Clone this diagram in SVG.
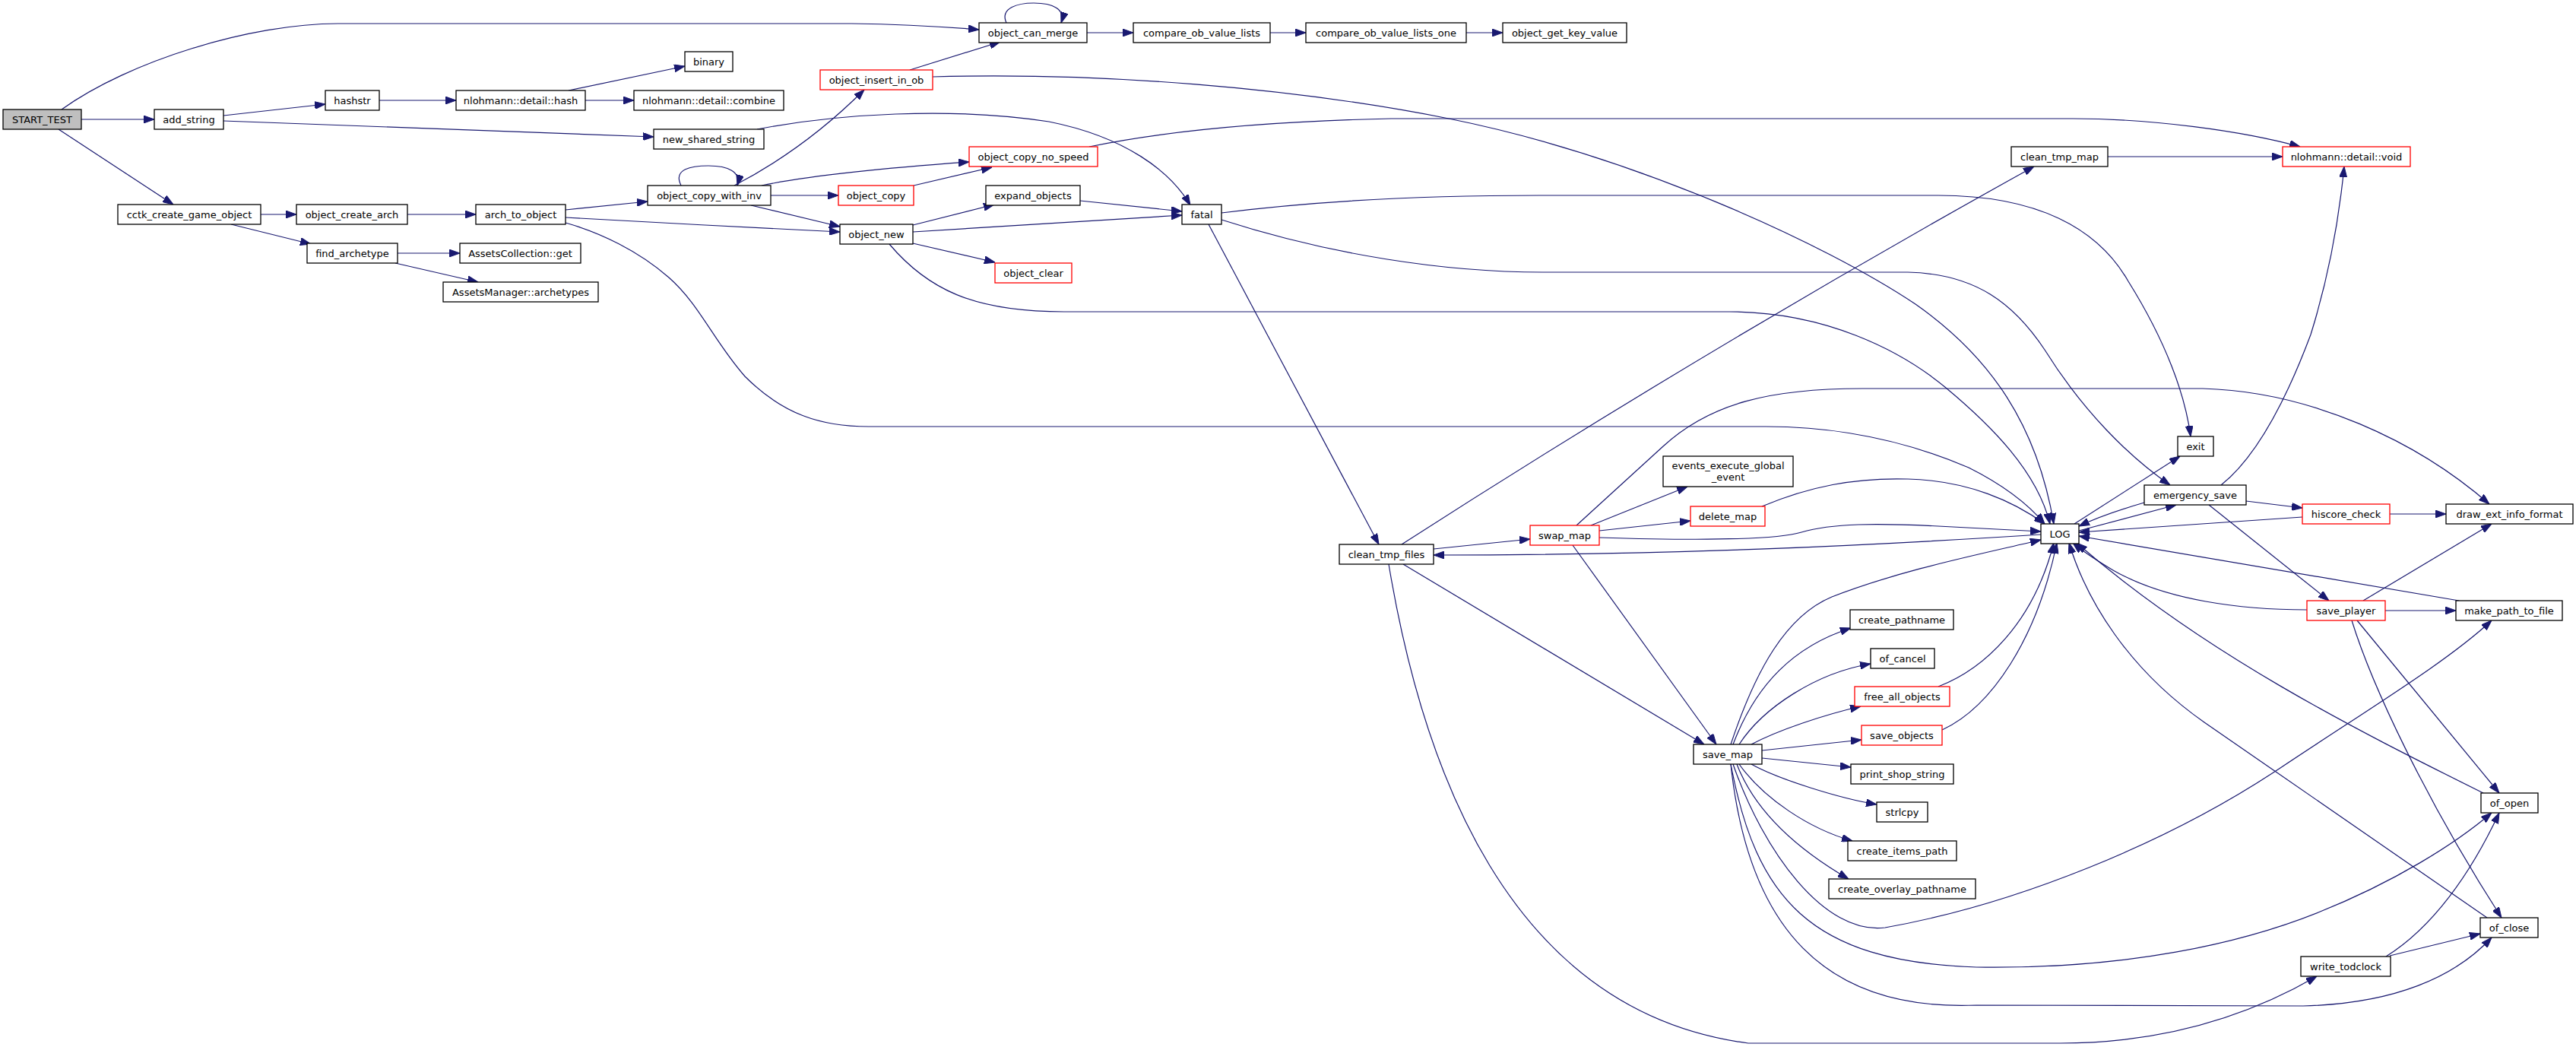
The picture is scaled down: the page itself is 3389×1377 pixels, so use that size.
<svg xmlns="http://www.w3.org/2000/svg" width="3389" height="1377" viewBox="0 0 3389 1377">
<style>
.e path{fill:none;stroke:#191970;stroke-width:1.2;marker-end:url(#a)}
.n rect{fill:#fff;stroke:#000;stroke-width:1.3}
.n.r rect{stroke:#ff0000}
.n.s rect{fill:#bfbfbf}
text{font-family:"DejaVu Sans","Liberation Sans",sans-serif;font-size:13px;text-anchor:middle;fill:#000}
</style>
<defs>
<marker id="a" markerWidth="14" markerHeight="10" refX="14" refY="5" orient="auto" markerUnits="userSpaceOnUse"><path d="M0,0 L14,5 L0,10 z" fill="#191970" stroke="#191970" stroke-width="1"/></marker>
</defs>
<rect width="3389" height="1377" fill="#fff"/>
<g id="edges" class="e">
<path d="M81,144 C170,80 330,31 445,31 L1120,31 C1190,32 1240,35 1288,39"/>
<path d="M107,157 L203,157"/>
<path d="M77,170 L228,269"/>
<path d="M294,152 L428,137"/>
<path d="M294,159 L860,180"/>
<path d="M499,132 L600,132"/>
<path d="M748,119 L901,87"/>
<path d="M770,132 L834,132"/>
<path d="M343,282 L390,282"/>
<path d="M304,295 L409,321"/>
<path d="M536,282 L626,282"/>
<path d="M523,333 L605,333"/>
<path d="M520,346 L629,371"/>
<path d="M744,276 L852,265"/>
<path d="M744,286 C850,292 1000,300 1105,305"/>
<path d="M744,293 C790,306 840,330 880,365 C920,400 940,450 980,495 C1030,545 1080,561 1143,561 L2323,561 C2430,561 2520,585 2590,615 C2640,640 2670,665 2690,689"/>
<path d="M896,244 C885,222 910,218 932,218 C958,218 975,226 970,244"/>
<path d="M966,244 Q1060,195 1137,118"/>
<path d="M1002,244 C1060,232 1150,222 1275,213"/>
<path d="M1014,257 L1103,257"/>
<path d="M988,270 L1105,298"/>
<path d="M1324,30 C1315,10 1340,4 1360,4 C1385,4 1402,12 1396,30"/>
<path d="M1430,43 L1491,43"/>
<path d="M1671,43 L1718,43"/>
<path d="M1929,43 L1977,43"/>
<path d="M1197,92 L1316,55"/>
<path d="M1227,101 C1450,95 1700,115 1906,156 C2150,205 2400,320 2520,400 C2620,470 2680,560 2702,689"/>
<path d="M996,170 C1100,150 1250,140 1380,160 C1480,180 1540,225 1566,270"/>
<path d="M1202,244 L1305,220"/>
<path d="M1433,193 C1520,175 1650,160 1830,156 L2727,156 C2830,156 2950,172 3026,193"/>
<path d="M1201,296 L1308,269"/>
<path d="M1201,305 L1555,283"/>
<path d="M1201,320 L1309,345"/>
<path d="M1170,321 C1220,380 1280,410 1400,410 L2275,410 C2400,410 2500,460 2560,510 C2620,560 2680,620 2697,689"/>
<path d="M1421,264 L1555,278"/>
<path d="M1607,280 C1750,262 1900,257 2025,257 L2550,257 C2680,257 2760,300 2800,370 C2850,450 2875,520 2882,574"/>
<path d="M1607,289 C1750,335 1900,358 2030,358 L2510,358 C2600,360 2650,400 2690,460 C2740,540 2800,600 2855,638"/>
<path d="M1590,295 L1814,716"/>
<path d="M2773,206 L3003,206"/>
<path d="M1844,716 Q2250,455 2676,219"/>
<path d="M1886,722 L2013,709"/>
<path d="M1846,742 L2242,979"/>
<path d="M1827,742 C1870,1000 1980,1330 2300,1372 L2710,1372 C2850,1372 2960,1335 3048,1284"/>
<path d="M2685,703 C2450,718 2200,730 1886,730"/>
<path d="M2093,691 L2220,640"/>
<path d="M2104,698 L2224,685"/>
<path d="M2104,707 C2200,710 2330,712 2370,700 C2410,688 2470,688 2550,692 L2685,699"/>
<path d="M2074,691 L2188,587 C2250,530 2330,511 2450,511 L2898,511 C3040,515 3180,580 3275,663"/>
<path d="M2069,717 L2258,979"/>
<path d="M2318,666 C2380,640 2440,628 2510,630 C2590,632 2650,660 2690,689"/>
<path d="M2729,689 L2868,600"/>
<path d="M2735,698 L2863,664"/>
<path d="M2821,661 C2790,670 2760,680 2735,692"/>
<path d="M2922,638 C2970,600 3010,520 3040,440 C3065,360 3078,280 3084,219"/>
<path d="M2955,659 L3029,668"/>
<path d="M2906,664 L3064,790"/>
<path d="M3029,680 L2735,700"/>
<path d="M3144,676 L3218,676"/>
<path d="M3035,802 C2950,802 2850,790 2780,750 C2755,735 2740,725 2727,714"/>
<path d="M3109,790 L3278,689"/>
<path d="M3138,803 L3231,803"/>
<path d="M3101,816 L3288,1043"/>
<path d="M3094,816 C3120,900 3190,1050 3291,1207"/>
<path d="M3235,790 L2735,705"/>
<path d="M2277,979 C2310,880 2350,810 2410,785 C2500,750 2600,730 2685,710"/>
<path d="M2280,979 C2310,900 2360,850 2435,826"/>
<path d="M2288,979 C2320,930 2390,885 2461,873"/>
<path d="M2304,979 C2340,960 2400,940 2448,929"/>
<path d="M2318,987 L2449,973"/>
<path d="M2318,997 L2435,1009"/>
<path d="M2304,1005 C2340,1025 2420,1050 2469,1058"/>
<path d="M2288,1005 C2320,1050 2380,1090 2437,1106"/>
<path d="M2285,1005 C2310,1070 2370,1120 2432,1156"/>
<path d="M2280,1005 C2320,1120 2400,1230 2480,1220 C2650,1190 2850,1110 3000,1010 C3120,930 3220,870 3278,816"/>
<path d="M2277,1005 C2310,1180 2380,1265 2600,1272 C2800,1275 2950,1240 3050,1200 C3150,1160 3230,1110 3278,1069"/>
<path d="M2277,1005 C2300,1220 2400,1330 2600,1322 L3030,1323 C3150,1320 3230,1285 3278,1233"/>
<path d="M2550,903 C2610,880 2675,820 2702,714"/>
<path d="M2555,960 C2620,930 2680,840 2706,714"/>
<path d="M3272,1207 L2900,950 C2800,880 2745,790 2722,714"/>
<path d="M3267,1043 C3100,960 2900,860 2732,714"/>
<path d="M3139,1258 C3200,1220 3250,1150 3288,1069"/>
<path d="M3144,1257 L3263,1228"/>
</g>
<g id="n1" class="n s"><rect x="4" y="144" width="103" height="26"/><text x="55.5" y="162">START_TEST</text></g>
<g id="n2" class="n"><rect x="203" y="144" width="91" height="26"/><text x="248.5" y="162">add_string</text></g>
<g id="n3" class="n"><rect x="428" y="119" width="71" height="26"/><text x="463.5" y="137">hashstr</text></g>
<g id="n4" class="n"><rect x="600" y="119" width="170" height="26"/><text x="685" y="137">nlohmann::detail::hash</text></g>
<g id="n5" class="n"><rect x="834" y="119" width="197" height="26"/><text x="932.5" y="137">nlohmann::detail::combine</text></g>
<g id="n6" class="n"><rect x="901" y="68" width="63" height="26"/><text x="932.5" y="86">binary</text></g>
<g id="n7" class="n"><rect x="155" y="269" width="188" height="26"/><text x="249" y="287">cctk_create_game_object</text></g>
<g id="n8" class="n"><rect x="390" y="269" width="146" height="26"/><text x="463" y="287">object_create_arch</text></g>
<g id="n9" class="n"><rect x="626" y="269" width="118" height="26"/><text x="685" y="287">arch_to_object</text></g>
<g id="n10" class="n"><rect x="404" y="320" width="119" height="26"/><text x="463.5" y="338">find_archetype</text></g>
<g id="n11" class="n"><rect x="605" y="320" width="159" height="26"/><text x="684.5" y="338">AssetsCollection::get</text></g>
<g id="n12" class="n"><rect x="583" y="371" width="204" height="26"/><text x="685" y="389">AssetsManager::archetypes</text></g>
<g id="n13" class="n"><rect x="1288" y="30" width="142" height="26"/><text x="1359" y="48">object_can_merge</text></g>
<g id="n14" class="n"><rect x="1491" y="30" width="180" height="26"/><text x="1581" y="48">compare_ob_value_lists</text></g>
<g id="n15" class="n"><rect x="1718" y="30" width="211" height="26"/><text x="1823.5" y="48">compare_ob_value_lists_one</text></g>
<g id="n16" class="n"><rect x="1977" y="30" width="163" height="26"/><text x="2058.5" y="48">object_get_key_value</text></g>
<g id="n17" class="n r"><rect x="1079" y="92" width="148" height="26"/><text x="1153" y="110">object_insert_in_ob</text></g>
<g id="n18" class="n"><rect x="860" y="170" width="145" height="26"/><text x="932.5" y="188">new_shared_string</text></g>
<g id="n19" class="n r"><rect x="1275" y="193" width="169" height="26"/><text x="1359.5" y="211">object_copy_no_speed</text></g>
<g id="n20" class="n"><rect x="852" y="244" width="162" height="26"/><text x="933" y="262">object_copy_with_inv</text></g>
<g id="n21" class="n r"><rect x="1103" y="244" width="99" height="26"/><text x="1152.5" y="262">object_copy</text></g>
<g id="n22" class="n"><rect x="1297" y="244" width="124" height="26"/><text x="1359" y="262">expand_objects</text></g>
<g id="n23" class="n"><rect x="1555" y="269" width="52" height="26"/><text x="1581" y="287">fatal</text></g>
<g id="n24" class="n"><rect x="1105" y="295" width="96" height="26"/><text x="1153" y="313">object_new</text></g>
<g id="n25" class="n r"><rect x="1309" y="346" width="101" height="26"/><text x="1359.5" y="364">object_clear</text></g>
<g id="n26" class="n"><rect x="2646" y="193" width="127" height="26"/><text x="2709.5" y="211">clean_tmp_map</text></g>
<g id="n27" class="n r"><rect x="3003" y="193" width="168" height="26"/><text x="3087" y="211">nlohmann::detail::void</text></g>
<g id="n28" class="n"><rect x="1762" y="716" width="124" height="26"/><text x="1824" y="734">clean_tmp_files</text></g>
<g id="n29" class="n r"><rect x="2013" y="691" width="91" height="26"/><text x="2058.5" y="709">swap_map</text></g>
<g id="n30" class="n"><rect x="2188" y="600" width="171" height="40"/><text x="2273.5" y="617">events_execute_global</text><text x="2273.5" y="632">_event</text></g>
<g id="n31" class="n r"><rect x="2224" y="666" width="98" height="26"/><text x="2273" y="684">delete_map</text></g>
<g id="n32" class="n"><rect x="2434" y="802" width="136" height="26"/><text x="2502" y="820">create_pathname</text></g>
<g id="n33" class="n"><rect x="2461" y="853" width="84" height="26"/><text x="2503" y="871">of_cancel</text></g>
<g id="n34" class="n r"><rect x="2440" y="903" width="125" height="26"/><text x="2502.5" y="921">free_all_objects</text></g>
<g id="n35" class="n r"><rect x="2449" y="954" width="106" height="26"/><text x="2502" y="972">save_objects</text></g>
<g id="n36" class="n"><rect x="2228" y="979" width="90" height="26"/><text x="2273" y="997">save_map</text></g>
<g id="n37" class="n"><rect x="2435" y="1005" width="135" height="26"/><text x="2502.5" y="1023">print_shop_string</text></g>
<g id="n38" class="n"><rect x="2469" y="1055" width="67" height="26"/><text x="2502.5" y="1073">strlcpy</text></g>
<g id="n39" class="n"><rect x="2431" y="1106" width="143" height="26"/><text x="2502.5" y="1124">create_items_path</text></g>
<g id="n40" class="n"><rect x="2406" y="1156" width="193" height="26"/><text x="2502.5" y="1174">create_overlay_pathname</text></g>
<g id="n41" class="n"><rect x="2865" y="574" width="47" height="26"/><text x="2888.5" y="592">exit</text></g>
<g id="n42" class="n"><rect x="2821" y="638" width="134" height="26"/><text x="2888" y="656">emergency_save</text></g>
<g id="n43" class="n r"><rect x="3029" y="663" width="115" height="26"/><text x="3086.5" y="681">hiscore_check</text></g>
<g id="n44" class="n"><rect x="3218" y="663" width="167" height="26"/><text x="3301.5" y="681">draw_ext_info_format</text></g>
<g id="n45" class="n"><rect x="2685" y="689" width="50" height="26"/><text x="2710" y="707">LOG</text></g>
<g id="n46" class="n r"><rect x="3035" y="790" width="103" height="26"/><text x="3086.5" y="808">save_player</text></g>
<g id="n47" class="n"><rect x="3231" y="790" width="140" height="26"/><text x="3301" y="808">make_path_to_file</text></g>
<g id="n48" class="n"><rect x="3264" y="1043" width="75" height="26"/><text x="3301.5" y="1061">of_open</text></g>
<g id="n49" class="n"><rect x="3263" y="1207" width="76" height="26"/><text x="3301" y="1225">of_close</text></g>
<g id="n50" class="n"><rect x="3027" y="1258" width="118" height="26"/><text x="3086" y="1276">write_todclock</text></g>
</svg>
